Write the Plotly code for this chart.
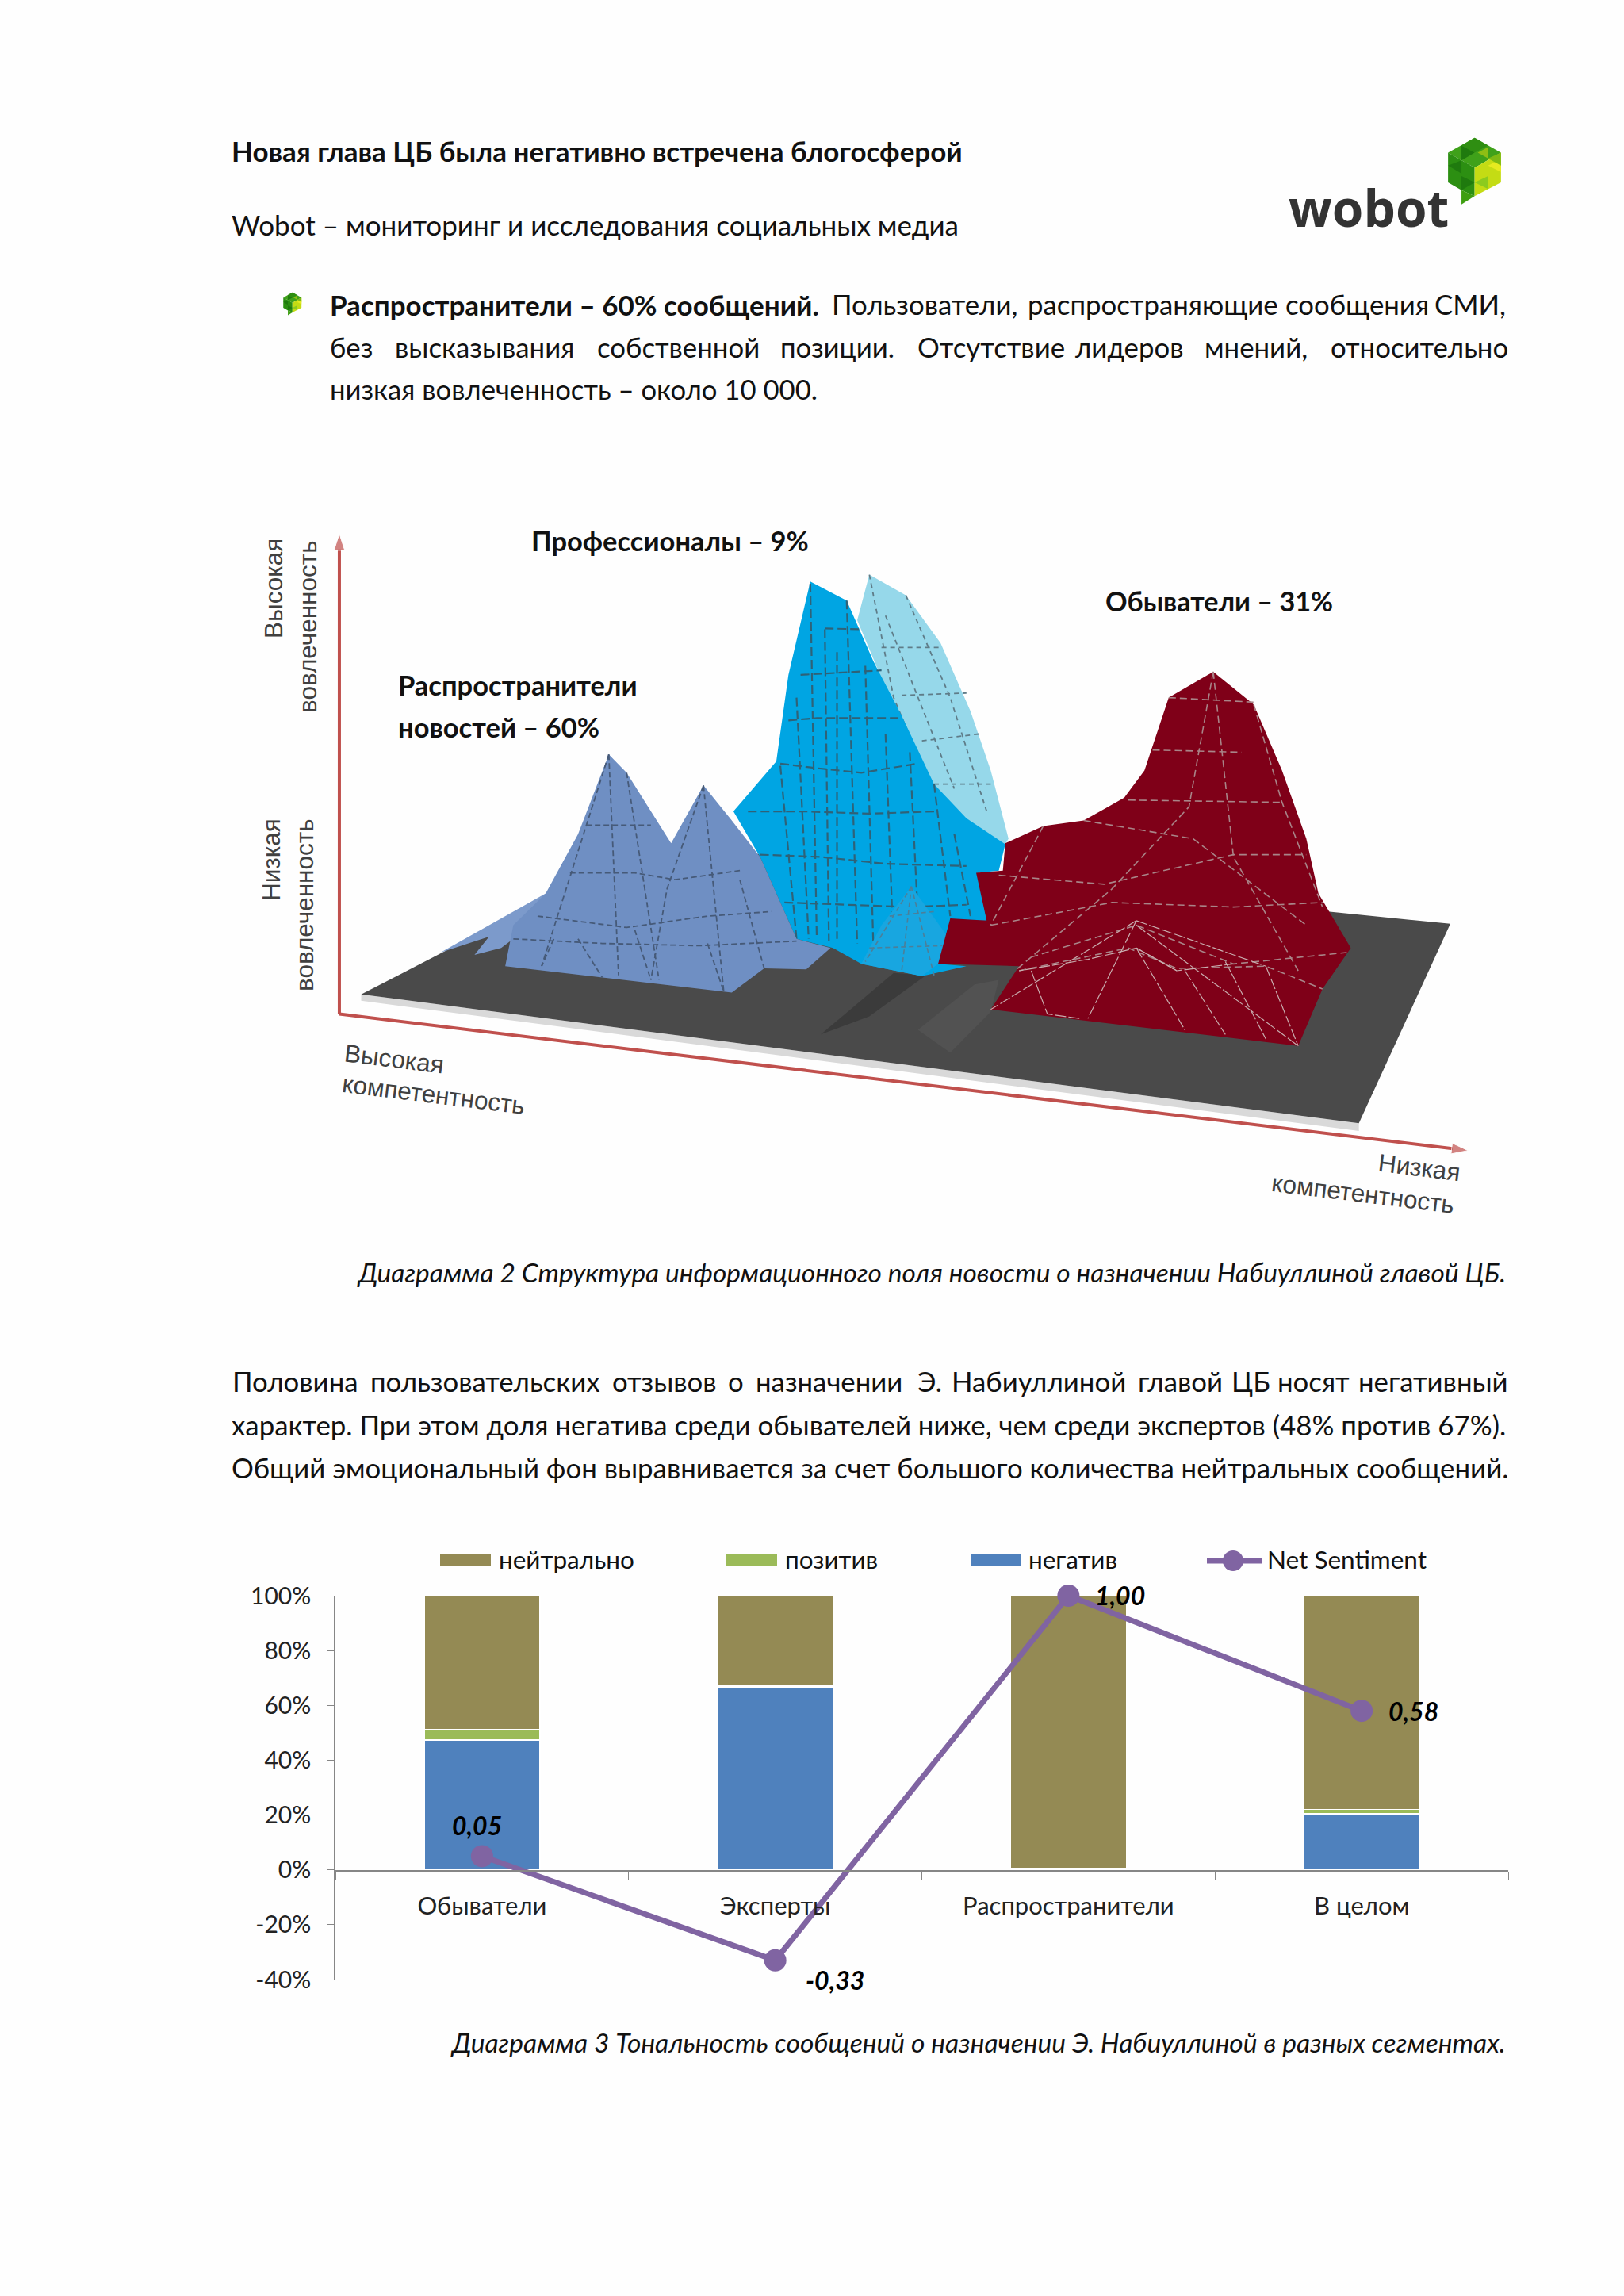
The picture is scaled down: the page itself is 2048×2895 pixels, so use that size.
import plotly.graph_objects as go

W, H = 2048, 2895
def px(x): return x / W
def py(y): return 1 - y / H

FONT = "Lato, 'Noto Sans', sans-serif"

# ---- stacked-bar chart data ----
categories = ["Обыватели", "Эксперты", "Распространители", "В целом"]
negative = [47.3, 66.5, 0, 20.5]
positive = [4.0, 0.5, 0.5, 1.5]
neutral = [48.7, 33.0, 99.5, 78.0]
net_sentiment = [5, -33, 100, 58]
net_labels = ["0,05", "-0,33", "1,00", "0,58"]
net_shift_x = [-6, 75, 65, 65]
net_shift_y = [39, -25, 0, 0]
y_ticks = [-40, -20, 0, 20, 40, 60, 80, 100]
y_tick_labels = ["-40%", "-20%", "0%", "20%", "40%", "60%", "80%", "100%"]

# ---- landscape picture: outlines ----
board_x = [172, 533, 1518, 1405]
board_y = [1052, 720, 897, 1335]
board_edge_x = [172, 1405, 1405, 172]
board_edge_y = [1052, 1335, 1352, 1066]
shadow_dark_x = [740, 830, 870, 800]
shadow_dark_y = [1140, 1005, 1010, 1100]
shadow_light_x = [860, 930, 960, 950, 900]
shadow_light_y = [1130, 1030, 1020, 1090, 1180]
prof_back_x = [800, 845, 888, 925, 950, 972, 965, 900, 870, 825, 785]
prof_back_y = [130, 175, 280, 430, 560, 710, 730, 680, 560, 400, 230]
prof_x = [727, 772, 805, 840, 880, 920, 968, 960, 935, 945, 900, 885, 920, 865, 790, 755, 710, 665, 632, 685, 700]
prof_y = [145, 187, 320, 440, 590, 665, 722, 780, 785, 890, 890, 985, 990, 1012, 985, 950, 930, 750, 650, 540, 350]
wing_x = [270, 420, 460, 360, 345, 312, 330]
wing_y = [960, 810, 860, 930, 950, 965, 925]
spread_x = [478, 500, 555, 595, 630, 665, 710, 752, 722, 670, 630, 350, 360, 400, 440]
spread_y = [525, 565, 720, 593, 670, 750, 930, 950, 997, 995, 1048, 990, 900, 830, 700]
public_x = [1225, 1275, 1310, 1340, 1355, 1395, 1360, 1330, 950, 985, 885, 900, 945, 932, 965, 968, 1015, 1065, 1115, 1140, 1170]
public_y = [343, 415, 560, 710, 830, 950, 1040, 1165, 1085, 990, 985, 885, 890, 785, 780, 720, 682, 670, 620, 560, 400]
axis_v_x = [145, 145]
axis_v_y = [1095, 40]
axis_h_x = [145, 1540]
axis_h_y = [1095, 1395]

prof_back_mesh_x = [815, 888, None, 840, 920, None, 865, 935, None, 880, 950, None, 800, 830, 870, None, 845, 900, 945, None, 820, 860, 905]
prof_back_mesh_y = [290, 290, None, 395, 390, None, 495, 480, None, 590, 590, None, 130, 400, 570, None, 175, 400, 650, None, 220, 400, 600]
prof_mesh_x = [700, 735, 780, 835, None, 690, 735, 790, 860, None, 650, 720, 800, 880, None, 665, 740, 820, 920, None, 695, 770, 850, 920, None,
               745, 790, None, 715, 815, None, 727, 735, None, 772, 785, None, 760, 760, None, 820, 830, None, 690, 710, None, 880, 900, None,
               710, 725, None, 745, 750, None, 795, 805, None, 850, 860, None, 905, 925]
prof_mesh_y = [450, 445, 445, 445, None, 545, 555, 565, 545, None, 650, 650, 655, 650, None, 745, 750, 765, 770, None, 850, 855, 860, 855, None,
               248, 250, None, 350, 340, None, 150, 930, None, 187, 940, None, 300, 930, None, 480, 960, None, 550, 930, None, 590, 880, None,
               400, 930, None, 250, 935, None, 330, 950, None, 520, 880, None, 700, 880]
peak_x = [852, 905, 885, 865, 790, 815]
peak_y = [815, 945, 985, 1012, 985, 900]
peak_mesh_x = [852, 795, None, 852, 880, None, 852, 840, None, 825, 880, None, 800, 890]
peak_mesh_y = [815, 980, None, 815, 1010, None, 815, 1000, None, 880, 870, None, 950, 945]
spread_mesh_x = [450, 530, None, 430, 510, 560, 640, None, 390, 500, 600, 680, None, 360, 470, 590, 710, None,
                 478, 395, None, 478, 490, None, 500, 540, None, 595, 550, 530, None, 595, 620, None, 410, 395, None, 440, 470, None, 510, 530, None, 600, 620, None, 640, 670]
spread_mesh_y = [680, 680, None, 785, 785, 800, 780, None, 880, 905, 880, 870, None, 930, 940, 945, 935, None,
                 525, 990, None, 525, 1010, None, 565, 1020, None, 593, 820, 1020, None, 593, 1045, None, 930, 990, None, 930, 1015, None, 910, 1020, None, 940, 1045, None, 800, 995]
public_mesh_x = [1170, 1275, None, 1150, 1260, None, 1120, 1310, None, 960, 1090, 1250, 1340, None, 950, 1100, 1250, 1360, None,
                 1000, 1130, 1250, 1390, None, 985, 1120, 1180, 1290, 1360, None,
                 1225, 1195, 1100, 980, None, 1225, 1250, 1330, None, 1275, 1310, 1360, None, 1065, 1200, 1340, None, 1015, 950, None]
public_mesh_y = [400, 410, None, 515, 520, None, 625, 630, None, 790, 810, 745, 745, None, 900, 850, 860, 850, None,
                 970, 900, 985, 960, None, 1000, 950, 995, 990, 1040, None,
                 343, 640, 820, 1000, None, 343, 750, 1000, None, 415, 630, 860, None, 670, 710, 900, None, 682, 900, None]
public_front_x = [1130, 950, None, 1130, 1070, None, 1130, 1190, None, 1130, 1330, None, 1240, 1290, None, 1190, 1240, None, 1290, 1330, None,
                  1130, 1250, 1290, None, 1130, 1180, 1250, None, 1000, 1020, 1060, None, 1180, 1130, 1070, 985]
public_front_y = [890, 1085, None, 890, 1105, None, 950, 1130, None, 900, 1165, None, 980, 1150, None, 1000, 1140, None, 990, 1165, None,
                  890, 965, 990, None, 950, 1000, 985, None, 1000, 1095, 1105, None, 1000, 950, 975, 1000]

fig = go.Figure()

# ---- bars ----
for name, vals, col in [("негатив", negative, "#4F81BD"), ("позитив", positive, "#9BBB59"), ("нейтрально", neutral, "#948A54")]:
    fig.add_trace(go.Bar(x=categories, y=vals, name=name, width=0.395, showlegend=False,
                         marker=dict(color=col, line=dict(color="white", width=1.5)), xaxis="x", yaxis="y"))
# carrier of the category axis drawn on the zero level
fig.add_trace(go.Bar(x=categories, y=[0, 0, 0, 0], showlegend=False, hoverinfo="skip", xaxis="x2", yaxis="y2",
                     marker=dict(color="rgba(0,0,0,0)")))
fig.add_trace(go.Scatter(x=categories, y=net_sentiment, name="Net Sentiment", mode="lines+markers", showlegend=False, cliponaxis=False,
                         line=dict(color="#8064A2", width=7), marker=dict(color="#8064A2", size=28), xaxis="x", yaxis="y"))

# ---- landscape ----
def poly(xs, ys, col):
    fig.add_trace(go.Scatter(x=xs, y=ys, mode="lines", fill="toself", fillcolor=col, line=dict(width=0, color=col),
                             hoverinfo="skip", showlegend=False, xaxis="x3", yaxis="y3"))
def mesh(xs, ys, col, dash="dash", width=1.6):
    fig.add_trace(go.Scatter(x=xs, y=ys, mode="lines", line=dict(color=col, width=width, dash=dash),
                             hoverinfo="skip", showlegend=False, connectgaps=False, xaxis="x3", yaxis="y3"))

poly(board_edge_x, board_edge_y, "#D9D9D9")
poly(board_x, board_y, "#4A4A4A")
poly(shadow_dark_x, shadow_dark_y, "#3B3B3B")
poly(shadow_light_x, shadow_light_y, "#525252")
poly(prof_back_x, prof_back_y, "#96D8EA")
mesh(prof_back_mesh_x, prof_back_mesh_y, "#5F7C88", "6px,5px", 1.8)
poly(prof_x, prof_y, "#00A5E3")
mesh(prof_mesh_x, prof_mesh_y, "#2F6278", "11px,5px", 2.2)
poly(peak_x, peak_y, "#18A6E0")
mesh(peak_mesh_x, peak_mesh_y, "#4C7F99", "6px,4px")
poly(wing_x, wing_y, "#7C9ACB")
poly(spread_x, spread_y, "#6F8FC3")
mesh(spread_mesh_x, spread_mesh_y, "#465A78", "7px,4px", 1.8)
poly(public_x, public_y, "#7F0018")
mesh(public_mesh_x, public_mesh_y, "#A98488", "9px,5px", 1.6)
mesh(public_front_x, public_front_y, "#C9ACAE", "14px,3px", 1.2)

for xs, ys in [(axis_v_x, axis_v_y), (axis_h_x, axis_h_y)]:
    fig.add_trace(go.Scatter(x=xs, y=ys, mode="lines+markers", line=dict(color="#C0504D", width=4), cliponaxis=False,
                             marker=dict(symbol="arrow", angleref="previous", size=[0, 22], color="#C0504D"),
                             hoverinfo="skip", showlegend=False, xaxis="x3", yaxis="y3"))

# ---- texts ----
ann = []
BODY = 34.8
def text(x, y, s, size=BODY, anchor="left", angle=0, color="#111111", family=FONT):
    ann.append(dict(x=px(x), y=py(y), xref="paper", yref="paper", text=s, showarrow=False, xanchor=anchor, yanchor="middle",
                    textangle=angle, font=dict(family=family, size=size, color=color), borderpad=0))

text(291, 190, "<b>Новая глава ЦБ была негативно встречена блогосферой</b>", 35)
text(291, 283, "Wobot – мониторинг и исследования социальных медиа", 35)

text(415, 384, "<b>Распространители – 60% сообщений.</b>", 35)
for x, w in [(1048, "Пользователи,"), (1295, "распространяющие"), (1620, "сообщения"), (1808, "СМИ,")]:
    text(x, 384, w)
for x, w in [(415, "без"), (497, "высказывания"), (752, "собственной"), (983, "позиции."), (1156, "Отсутствие"),
             (1355, "лидеров"), (1518, "мнений,"), (1677, "относительно")]:
    text(x, 437, w)
text(415, 491, "низкая вовлеченность – около 10 000.", 34.7)

text(1900, 1604, "<i>Диаграмма 2 Структура информационного поля новости о назначении Набиуллиной главой ЦБ.</i>", 33.5, "right")
for x, w in [(292, "Половина"), (466, "пользовательских"), (771, "отзывов"), (917, "о"), (952, "назначении"), (1156, "Э."),
             (1199, "Набиуллиной"), (1434, "главой"), (1552, "ЦБ"), (1610, "носят"), (1712, "негативный")]:
    text(x, 1742, w)
text(291, 1796, "характер. При этом доля негатива среди обывателей ниже, чем среди экспертов (48% против 67%).", 34.85)
text(291, 1850, "Общий эмоциональный фон выравнивается за счет большого количества нейтральных сообщений.", 34.85)
text(1900, 2575, "<i>Диаграмма 3 Тональность сообщений о назначении Э. Набиуллиной в разных сегментах.</i>", 33.6, "right")

text(669, 681, "<b>Профессионалы – 9%</b>", 34.5)
text(1393, 758, "<b>Обыватели – 31%</b>", 34.2)
text(501, 864, "<b>Распространители</b>", 34.5)
text(501, 916, "<b>новостей – 60%</b>", 34.5)

SANS = "'Liberation Sans', Arial, sans-serif"
for x, y, s, a in [(345, 742, "Высокая", -90), (388, 790, "вовлеченность", -90), (342, 1084, "Низкая", -90), (384, 1141, "вовлеченность", -90),
                   (497, 1335, "Высокая", 7), (547, 1380, "компетентность", 7), (1790, 1472, "Низкая", 7), (1719, 1505, "компетентность", 7)]:
    text(x, y, s, 31.5, "center", a, "#404040", SANS)

# legend of the bar chart
for x, s in [(628, "нейтрально"), (989, "позитив"), (1296, "негатив"), (1597, "Net Sentiment")]:
    text(x, 1966, s, 31.5)
# value labels
for c, v, s, dx, dy in zip(categories, net_sentiment, net_labels, net_shift_x, net_shift_y):
    ann.append(dict(x=c, y=v, xref="x", yref="y", text=f"<b><i>{s}</i></b>", showarrow=False, xshift=dx, yshift=dy,
                    font=dict(family=FONT, size=32, color="#000000")))
# logo wordmark
text(1624, 262, "<b>wobot</b>", 64, color="#333333", family="'Open Sans', sans-serif")

def path(pts):
    return "M" + "L".join(f"{px(x):.5f},{py(y):.5f}" for x, y in pts) + "Z"
shapes = []
def sh(pts, col):
    shapes.append(dict(type="path", xref="paper", yref="paper", path=path(pts), fillcolor=col, line=dict(width=0)))
def logo(ox, oy, k):
    P = lambda pts: [(ox + a * k, oy + b * k) for a, b in pts]
    sh(P([(748, 42), (850, 100), (748, 158), (645, 100)]), "#3FA11A")
    sh(P([(645, 100), (748, 158), (748, 268), (697, 245), (645, 215)]), "#2C8F12")
    sh(P([(850, 100), (850, 215), (748, 268), (748, 158)]), "#C4DC14")
    sh(P([(697, 245), (748, 268), (697, 300)]), "#3E9E10")
    sh(P([(748, 42), (800, 72), (748, 100), (697, 72)]), "#2F8E12")
    sh(P([(760, 100), (800, 78), (800, 122)]), "#8FBE14")
    sh(P([(645, 150), (697, 130), (697, 180)]), "#1F7A0E")
    sh(P([(697, 190), (748, 215), (697, 245)]), "#1F7A0E")
    sh(P([(800, 150), (850, 125), (850, 175)]), "#E6EA20")
    sh(P([(748, 215), (800, 190), (800, 240)]), "#8CCB1E")
    sh(P([(697, 72), (748, 100), (697, 130)]), "#1F7A0E")
    sh(P([(850, 100), (800, 122), (850, 150)]), "#7DB914")
logo(1616, 160, 1 / 3.07)
logo(285, 364, 0.112)

# bar legend swatches and line
for x0, col in [(555, "#948A54"), (916, "#9BBB59"), (1224, "#4F81BD")]:
    shapes.append(dict(type="rect", xref="paper", yref="paper", x0=px(x0), x1=px(x0 + 64), y0=py(1975), y1=py(1959), fillcolor=col, line=dict(width=0)))
shapes.append(dict(type="line", xref="paper", yref="paper", x0=px(1522), x1=px(1592), y0=py(1968), y1=py(1968), line=dict(color="#8064A2", width=7)))
shapes.append(dict(type="circle", xref="paper", yref="paper", x0=px(1542), x1=px(1568), y0=py(1981), y1=py(1955), fillcolor="#8064A2", line=dict(width=0)))

TICKF = dict(family=FONT, size=30, color="#222222")
fig.update_layout(
    width=W, height=H, margin=dict(l=0, r=0, t=0, b=0, pad=0, autoexpand=False), autosize=False,
    paper_bgcolor="#FEFEFE", plot_bgcolor="rgba(0,0,0,0)", barmode="stack", showlegend=False, font=dict(family=FONT),
    xaxis=dict(domain=[px(423), px(1902)], anchor="y", type="category", categoryorder="array", categoryarray=categories,
               range=[-0.5, 3.5], visible=False, automargin=False),
    yaxis=dict(domain=[py(2496), py(2012)], anchor="x", range=[-40, 100], tickvals=y_ticks, ticktext=y_tick_labels,
               showgrid=False, zeroline=False, showline=True, linecolor="#868686", linewidth=1.5, automargin=False,
               ticks="outside", ticklen=9, tickcolor="#868686", tickfont=TICKF, ticklabelstandoff=14),
    xaxis2=dict(domain=[px(423), px(1902)], anchor="y2", type="category", categoryorder="array", categoryarray=categories,
                range=[-0.5, 3.5], showgrid=False, zeroline=False, showline=True, linecolor="#868686", linewidth=2, automargin=False,
                ticks="outside", ticklen=11, tickcolor="#868686", tickson="boundaries", tickfont=dict(family=FONT, size=31, color="#222222"),
                ticklabelstandoff=17),
    yaxis2=dict(domain=[py(2358), py(2012)], anchor="x2", range=[0, 100], visible=False, automargin=False),
    xaxis3=dict(domain=[px(280), px(1880)], anchor="y3", range=[0, 1568], visible=False, automargin=False),
    yaxis3=dict(domain=[py(1550), py(650)], anchor="x3", range=[1568, 0], visible=False, automargin=False),
    annotations=ann, shapes=shapes,
)
fig.write_html("out.html", config={"displayModeBar": False},
               post_script="document.body.style.margin='0';document.documentElement.style.overflow='hidden';")
